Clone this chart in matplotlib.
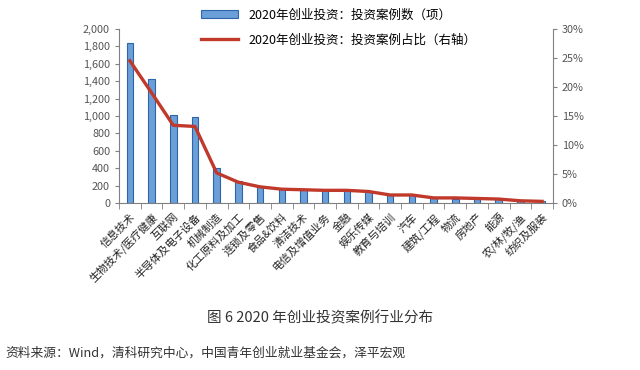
import matplotlib
matplotlib.use('Agg')
from matplotlib import pyplot as plt
from matplotlib.ticker import FuncFormatter, MultipleLocator
import matplotlib.transforms as mtransforms
import numpy as np

plt.rcParams['font.family'] = ['Noto Sans CJK SC', 'DejaVu Sans']

industries = ['信息技术', '生物技术/医疗健康', '互联网', '半导体及电子设备', '机械制造',
              '化工原料及加工', '连锁及零售', '食品&饮料', '清洁技术', '电信及增值业务',
              '金融', '娱乐传媒', '教育与培训', '汽车', '建筑/工程',
              '物流', '房地产', '能源', '农/林/牧/渔', '纺织及服装']
case_counts = [1842, 1422, 1008, 988, 402, 256, 200, 165, 165, 154,
               154, 140, 92, 92, 58, 46, 46, 46, 27, 23]
case_share = [24.5, 19.0, 13.4, 13.2, 5.2, 3.6, 2.8, 2.4, 2.3, 2.2,
              2.2, 2.0, 1.4, 1.4, 0.9, 0.9, 0.8, 0.7, 0.4, 0.3]

bar_label = '2020年创业投资：投资案例数（项）'
line_label = '2020年创业投资：投资案例占比（右轴）'
title_text = '图 6 2020 年创业投资案例行业分布'
source_text = '资料来源：Wind，清科研究中心，中国青年创业就业基金会，泽平宏观'

grey = '#808080'

fig = plt.figure(figsize=(6.4, 3.7), dpi=100)
ax = fig.add_axes([0.186, 0.451, 0.678, 0.471])
ax2 = ax.twinx()

x = np.arange(len(industries))
bars = ax.bar(x, case_counts, width=0.3, color='#6A9FD8', edgecolor='#2F64A8',
              linewidth=0.8, label=bar_label, zorder=2)
line, = ax2.plot(x, case_share, color='#C0392B', linewidth=2.4, label=line_label,
                 solid_joinstyle='round', zorder=3)

ax.set_xlim(-0.5, len(industries) - 0.5)
ax.set_ylim(0, 2000)
ax.yaxis.set_major_locator(MultipleLocator(200))
ax.yaxis.set_major_formatter(FuncFormatter(lambda v, p: '{:,.0f}'.format(v)))
ax2.set_ylim(0, 30)
ax2.yaxis.set_major_locator(MultipleLocator(5))
ax2.yaxis.set_major_formatter(FuncFormatter(lambda v, p: '{:.0f}%'.format(v)))

ax.set_xticks(x)
ax.set_xticklabels(industries, rotation=45, ha='right', va='top',
                   rotation_mode='anchor', fontsize=7.8, color='#222222')
# nudge the rotated labels a little left so they end under the bar
shift = mtransforms.ScaledTranslation(-3 / 72, 0, fig.dpi_scale_trans)
for lbl in ax.get_xticklabels():
    lbl.set_transform(lbl.get_transform() + shift)
ax.set_xticks(np.arange(-0.5, len(industries), 1), minor=True)
ax.tick_params(axis='x', which='major', length=0, pad=6)
ax.tick_params(axis='x', which='minor', length=4, color=grey, direction='out')
ax.tick_params(axis='y', labelsize=7.8, labelcolor='#555555', color=grey, length=3)
ax2.tick_params(axis='y', labelsize=7.8, labelcolor='#555555', color=grey, length=3)

for a in (ax, ax2):
    a.spines['top'].set_visible(False)
    for s in ('left', 'right', 'bottom'):
        a.spines[s].set_color(grey)
        a.spines[s].set_linewidth(0.8)
ax.spines['right'].set_visible(False)
ax2.spines['left'].set_visible(False)
ax2.spines['bottom'].set_visible(False)

fig.legend([bars, line], [bar_label, line_label], loc='upper left',
           bbox_to_anchor=(0.3, 1.0), frameon=False, fontsize=9,
           handlelength=3.0, handleheight=0.6, labelspacing=0.95, borderaxespad=0.3)

fig.text(0.5, 0.14, title_text, ha='center', va='center', fontsize=10.5, color='#333333')
fig.text(0.008, 0.045, source_text, ha='left', va='center', fontsize=9.2, color='#333333')

fig.savefig('out.png', dpi=100)
